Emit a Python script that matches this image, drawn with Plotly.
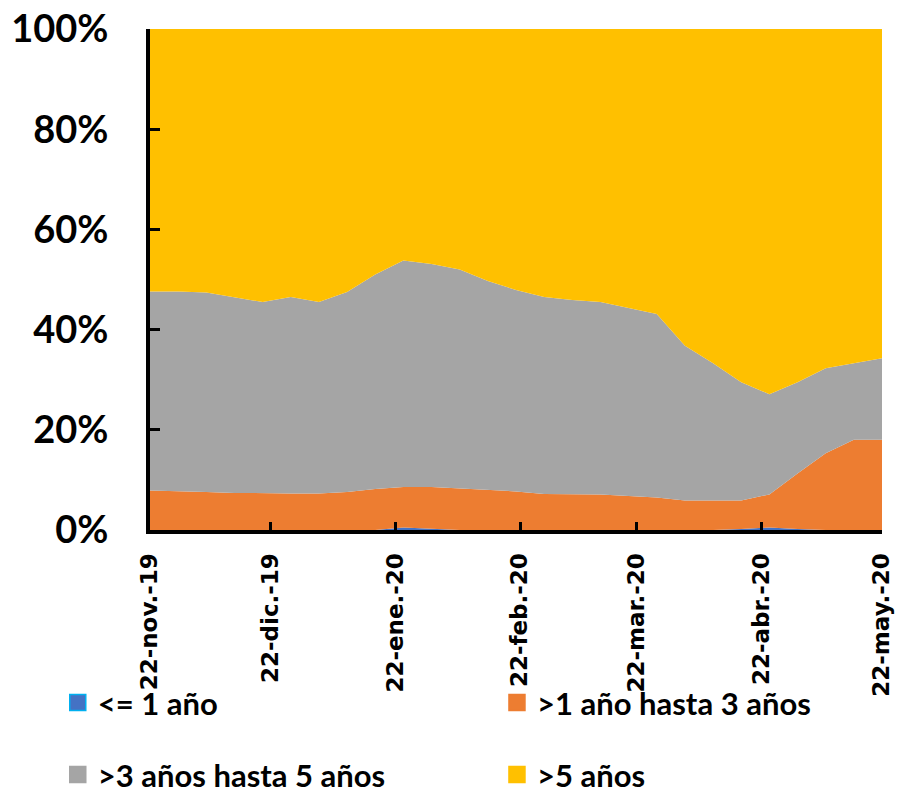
import pandas as pd
import plotly.graph_objects as go

dates = pd.date_range("2019-11-22", "2020-05-22", freq="7D").strftime("%Y-%m-%d").tolist()

series_names = ["<= 1 año", ">1 año hasta 3 años", ">3 años hasta 5 años", ">5 años"]
colors = ["#4472C4", "#ED7D31", "#A5A5A5", "#FFC000"]
edge_colors = ["#00B0F0", "#ED7D31", "#A5A5A5", "#FFC000"]

hasta_1 = [0.0, 0.0, 0.0, 0.0, 0.0, 0.0, 0.0, 0.0, 0.0, 0.5, 0.3, 0.0, 0.0, 0.0,
           0.0, 0.0, 0.0, 0.0, 0.0, 0.0, 0.0, 0.2, 0.5, 0.2, 0.0, 0.0, 0.0]
de1_a3 = [7.9, 7.8, 7.6, 7.4, 7.3, 7.3, 7.3, 7.6, 8.2, 8.1, 8.3, 8.3, 8.0, 7.7,
          7.2, 7.2, 7.1, 6.8, 6.5, 5.9, 5.9, 5.7, 6.6, 11.1, 15.3, 18.0, 18.0]
de3_a5 = [39.7, 39.8, 39.8, 39.1, 38.2, 39.2, 38.2, 39.9, 42.8, 45.2, 44.5, 43.7, 41.7, 40.2,
          39.3, 38.7, 38.4, 37.5, 36.6, 30.9, 27.4, 23.6, 20.0, 18.2, 17.0, 15.3, 16.3]
mas_5 = [52.4, 52.4, 52.6, 53.5, 54.5, 53.5, 54.5, 52.5, 49.0, 46.2, 46.9, 48.0, 50.3, 52.1,
         53.5, 54.1, 54.5, 55.7, 56.9, 63.2, 66.7, 70.5, 72.9, 70.5, 67.7, 66.7, 65.7]

tick_dates = ["2019-11-22", "2019-12-22", "2020-01-22", "2020-02-22",
              "2020-03-22", "2020-04-22", "2020-05-22"]
tick_labels = ["22-nov.-19", "22-dic.-19", "22-ene.-20", "22-feb.-20",
               "22-mar.-20", "22-abr.-20", "22-may.-20"]
y_ticks = [0, 20, 40, 60, 80, 100]
y_labels = ["0%", "20%", "40%", "60%", "80%", "100%"]

values = [hasta_1, de1_a3, de3_a5, mas_5]
legend_ids = ["legend", "legend2", "legend3", "legend4"]

fig = go.Figure()
for name, vals, col in zip(series_names, values, colors):
    fig.add_trace(go.Scatter(
        x=dates, y=vals, name=name, mode="lines",
        stackgroup="one", line=dict(width=0, color=col),
        fillcolor=col, showlegend=False, hoverinfo="x+y+name",
    ))
# legend entries as square markers
for name, col, ec, lg in zip(series_names, colors, edge_colors, legend_ids):
    fig.add_trace(go.Scatter(
        x=[None], y=[None], name=name, mode="markers",
        marker=dict(symbol="square", size=20, color=col, line=dict(color=ec, width=1.5)),
        legend=lg, showlegend=True,
    ))

legend_font = dict(family="Lato, sans-serif", size=31, color="black", weight="bold")
leg_pos = [(-0.126, -0.291), (0.474, -0.291), (-0.126, -0.435), (0.474, -0.435)]
legend_layout = {}
for lg, (lx, ly) in zip(legend_ids, leg_pos):
    legend_layout[lg] = dict(x=lx, y=ly, xanchor="left", yanchor="top",
                             font=legend_font, bgcolor="rgba(0,0,0,0)")

fig.update_layout(
    width=902, height=802,
    margin=dict(l=150, r=20, t=29, b=272, autoexpand=False),
    plot_bgcolor="white", paper_bgcolor="white",
    showlegend=True,
    **legend_layout,
    xaxis=dict(
        range=["2019-11-22", "2020-05-22"], tickvals=tick_dates, ticktext=tick_labels,
        tickangle=-90, ticks="inside", ticklen=8, tickwidth=3, tickcolor="black",
        showline=True, linewidth=4, linecolor="black", showgrid=False, zeroline=False,
        tickfont=dict(family="DejaVu Sans", size=23, color="black", weight="bold"),
        ticklabelstandoff=10, ticklabeloverflow="allow",
    ),
    yaxis=dict(
        range=[0, 100], tickvals=y_ticks, ticktext=y_labels,
        ticks="inside", ticklen=10, tickwidth=3, tickcolor="black",
        showline=True, linewidth=4, linecolor="black",
        showgrid=True, gridcolor="#d0d0d0", griddash="dash", gridwidth=1.5,
        zeroline=False,
        tickfont=dict(family="Lato, sans-serif", size=38, color="black", weight="bold"),
        ticklabelstandoff=30, ticklabeloverflow="allow",
    ),
)

fig.write_html("out.html", config={"displayModeBar": False},
               post_script="document.body.style.margin='0';document.body.style.overflow='hidden';")
